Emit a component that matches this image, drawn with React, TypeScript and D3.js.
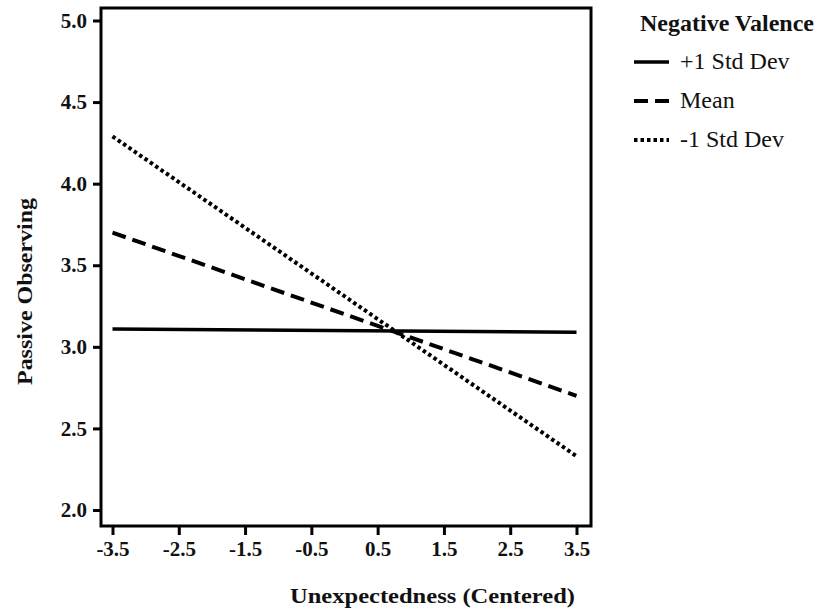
import React, { useEffect, useRef } from 'react';
import * as d3 from 'd3';

// x positions of the simple slopes (Unexpectedness, centered)
const xEnds = [-3.5, 3.5];
const xTicks = [-3.5, -2.5, -1.5, -0.5, 0.5, 1.5, 2.5, 3.5];
const yTicks = [2.0, 2.5, 3.0, 3.5, 4.0, 4.5, 5.0];

// Passive Observing at the two ends, one line per level of Negative Valence
const seriesNames = ['+1 Std Dev', 'Mean', '-1 Std Dev'];
const plusOneSD = [3.11, 3.09];
const meanValues = [3.70, 2.70];
const minusOneSD = [4.29, 2.33];

const WIDTH = 820;
const HEIGHT = 609;
const FONT = '"Liberation Serif", "Times New Roman", serif';

// plain hyphen for negatives, like the original
const fmt = (d: number) => d.toFixed(1);

export default function App() {
    const ref = useRef<SVGSVGElement>(null);

    useEffect(() => {
        const svg = d3.select(ref.current);
        svg.selectAll('*').remove();

        const left = 101, right = 591, top = 8, bottom = 526;

        const x = d3.scaleLinear().domain([-3.5, 3.5]).range([112.5, 576.5]);
        const y = d3.scaleLinear().domain([2.0, 5.0]).range([510, 20.5]);

        // frame
        svg.append('rect')
            .attr('x', left).attr('y', top)
            .attr('width', right - left).attr('height', bottom - top)
            .attr('fill', 'none').attr('stroke', '#000').attr('stroke-width', 3);

        // y axis ticks
        const yAxis = svg.append('g').attr('transform', `translate(${left},0)`)
            .call(d3.axisLeft(y).tickValues(yTicks).tickFormat(fmt as any).tickSize(8).tickPadding(6));
        yAxis.select('.domain').remove();
        yAxis.selectAll('line').attr('stroke', '#000').attr('stroke-width', 3);
        yAxis.selectAll('text')
            .attr('font-family', FONT).attr('font-size', 21).attr('font-weight', 'bold').attr('fill', '#111');

        // x axis ticks
        const xAxis = svg.append('g').attr('transform', `translate(0,${bottom})`)
            .call(d3.axisBottom(x).tickValues(xTicks).tickFormat(fmt as any).tickSize(9).tickPadding(6));
        xAxis.select('.domain').remove();
        xAxis.selectAll('line').attr('stroke', '#000').attr('stroke-width', 3);
        xAxis.selectAll('text')
            .attr('font-family', FONT).attr('font-size', 21).attr('font-weight', 'bold').attr('fill', '#111');

        // axis titles
        svg.append('text')
            .attr('x', 290).attr('y', 603)
            .attr('textLength', 285).attr('lengthAdjust', 'spacingAndGlyphs')
            .attr('font-family', FONT).attr('font-size', 22).attr('font-weight', 'bold').attr('fill', '#111')
            .text('Unexpectedness (Centered)');

        svg.append('text')
            .attr('transform', 'translate(32,385) rotate(-90)')
            .attr('textLength', 187).attr('lengthAdjust', 'spacingAndGlyphs')
            .attr('font-family', FONT).attr('font-size', 22).attr('font-weight', 'bold').attr('fill', '#111')
            .text('Passive Observing');

        // lines
        const styles = [
            { values: plusOneSD, dash: null, width: 3.5 },
            { values: meanValues, dash: '14,7', width: 4 },
            { values: minusOneSD, dash: '3.5,3', width: 4 },
        ];
        const line = d3.line<number>()
            .x((d, i) => x(xEnds[i]))
            .y(d => y(d));

        styles.forEach(s => {
            svg.append('path')
                .attr('d', line(s.values))
                .attr('fill', 'none')
                .attr('stroke', '#000')
                .attr('stroke-width', s.width)
                .attr('stroke-dasharray', s.dash);
        });

        // legend
        const legend = svg.append('g');
        legend.append('text')
            .attr('x', 640).attr('y', 31)
            .attr('font-family', FONT).attr('font-size', 24).attr('font-weight', 'bold').attr('fill', '#111')
            .text('Negative Valence');

        seriesNames.forEach((name, i) => {
            const yy = 62 + i * 39;
            legend.append('line')
                .attr('x1', 634).attr('x2', 669).attr('y1', yy).attr('y2', yy)
                .attr('stroke', '#000')
                .attr('stroke-width', styles[i].width)
                .attr('stroke-dasharray', styles[i].dash);
            legend.append('text')
                .attr('x', 680).attr('y', yy + 7)
                .attr('font-family', FONT).attr('font-size', 24).attr('fill', '#111')
                .text(name);
        });
    }, []);

    return (
        <svg ref={ref} width={WIDTH} height={HEIGHT}
            style={{ position: 'absolute', left: 0, top: 0, background: '#fff' }} />
    );
}
